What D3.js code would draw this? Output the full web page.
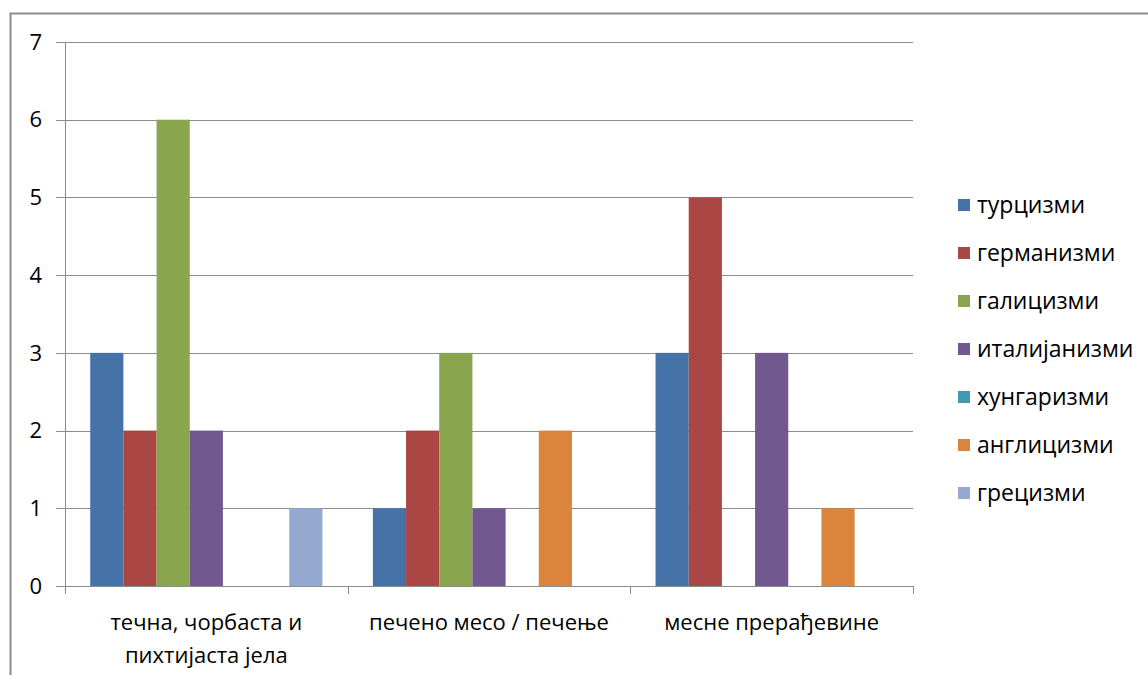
<!DOCTYPE html>
<html>
<head>
<meta charset="utf-8">
<script src="https://cdn.jsdelivr.net/npm/d3@7"></script>
<style>
  html, body { margin: 0; padding: 0; background: #fff; }
  svg { display: block; font-family: "Open Sans", "Noto Sans", sans-serif; }
</style>
</head>
<body>
<svg id="chart" width="1148" height="675"></svg>
<script>
// Категорије јела (ознаке на x-оси, у више редова)
const categories = [
  ["течна, чорбаста и", "пихтијаста јела"],
  ["печено месо / печење"],
  ["месне прерађевине"]
];
const seriesNames = ["турцизми", "германизми", "галицизми", "италијанизми", "хунгаризми", "англицизми", "грецизми"];
const turcizmi     = [3, 1, 3];
const germanizmi   = [2, 2, 5];
const galicizmi    = [6, 3, 0];
const italijanizmi = [2, 1, 3];
const hungarizmi   = [0, 0, 0];
const anglicizmi   = [0, 2, 1];
const grecizmi     = [1, 0, 0];
const yTicks = [0, 1, 2, 3, 4, 5, 6, 7];

const seriesValues = [turcizmi, germanizmi, galicizmi, italijanizmi, hungarizmi, anglicizmi, grecizmi];
const colors = ["#4572A7", "#AA4643", "#89A54E", "#71588F", "#4198AF", "#DB843D", "#93A9CF"];

const svg = d3.select("#chart");

// оквир графикона
svg.append("rect")
  .attr("x", 10.5).attr("y", 13.5)
  .attr("width", 1160).attr("height", 700)
  .attr("fill", "none").attr("stroke", "#8c8c8c").attr("stroke-width", 2);

const plotLeft = 65, plotRight = 913, plotTop = 42, plotBottom = 586;

const x0 = d3.scaleBand().domain(d3.range(categories.length)).range([plotLeft, plotRight]).paddingInner(0).paddingOuter(0);
const x1 = d3.scaleBand().domain(d3.range(seriesNames.length)).range([0, x0.bandwidth()]).paddingOuter(0.76).paddingInner(0);
const y = d3.scaleLinear().domain([0, 7]).range([plotBottom, plotTop]);

// хоризонталне линије мреже
svg.append("g").selectAll("line").data(yTicks.filter(d => d > 0)).join("line")
  .attr("x1", plotLeft - 9).attr("x2", plotRight)
  .attr("y1", d => Math.round(y(d)) + 0.5).attr("y2", d => Math.round(y(d)) + 0.5)
  .attr("stroke", "#8c8c8c").attr("stroke-width", 1);

// стубићи
const groups = svg.append("g").selectAll("g").data(seriesValues).join("g")
  .attr("fill", (d, i) => colors[i]);
groups.each(function(vals, si) {
  d3.select(this).selectAll("rect").data(vals).join("rect")
    .attr("x", (v, ci) => x0(ci) + x1(si))
    .attr("width", x1.bandwidth())
    .attr("y", v => y(v))
    .attr("height", v => y(0) - y(v));
});

// y-оса
svg.append("line")
  .attr("x1", plotLeft + 0.5).attr("x2", plotLeft + 0.5)
  .attr("y1", plotTop).attr("y2", plotBottom)
  .attr("stroke", "#8c8c8c");
svg.append("line")
  .attr("x1", plotLeft - 9).attr("x2", plotLeft)
  .attr("y1", Math.round(y(0)) + 0.5).attr("y2", Math.round(y(0)) + 0.5)
  .attr("stroke", "#8c8c8c");
svg.append("g").selectAll("text").data(yTicks).join("text")
  .attr("x", 42).attr("y", d => y(d))
  .attr("dy", "0.35em").attr("text-anchor", "end")
  .attr("font-size", 22).attr("fill", "#000")
  .text(d => d);

// x-оса
svg.append("line")
  .attr("x1", plotLeft).attr("x2", plotRight)
  .attr("y1", Math.round(y(0)) + 0.5).attr("y2", Math.round(y(0)) + 0.5)
  .attr("stroke", "#8c8c8c");
const bounds = d3.range(categories.length + 1).map(i => plotLeft + i * x0.bandwidth());
svg.append("g").selectAll("line").data(bounds).join("line")
  .attr("x1", d => Math.round(d) + 0.5).attr("x2", d => Math.round(d) + 0.5)
  .attr("y1", plotBottom).attr("y2", plotBottom + 8)
  .attr("stroke", "#8c8c8c");

svg.append("g").selectAll("text").data(categories).join("text")
  .attr("text-anchor", "middle").attr("font-size", 22).attr("fill", "#000")
  .each(function(lines, i) {
    d3.select(this).selectAll("tspan").data(lines).join("tspan")
      .attr("x", x0(i) + x0.bandwidth() / 2)
      .attr("y", (l, j) => 630 + j * 33)
      .text(l => l);
  });

// легенда
const legend = svg.append("g").selectAll("g").data(seriesNames).join("g")
  .attr("transform", (d, i) => `translate(958, ${205 + i * 48})`);
legend.append("rect")
  .attr("x", 0).attr("y", -6).attr("width", 12).attr("height", 12)
  .attr("fill", (d, i) => colors[i]);
legend.append("text")
  .attr("x", 19).attr("y", 0).attr("dy", "0.35em")
  .attr("font-size", 23).attr("fill", "#000")
  .text(d => d);
</script>
</body>
</html>
